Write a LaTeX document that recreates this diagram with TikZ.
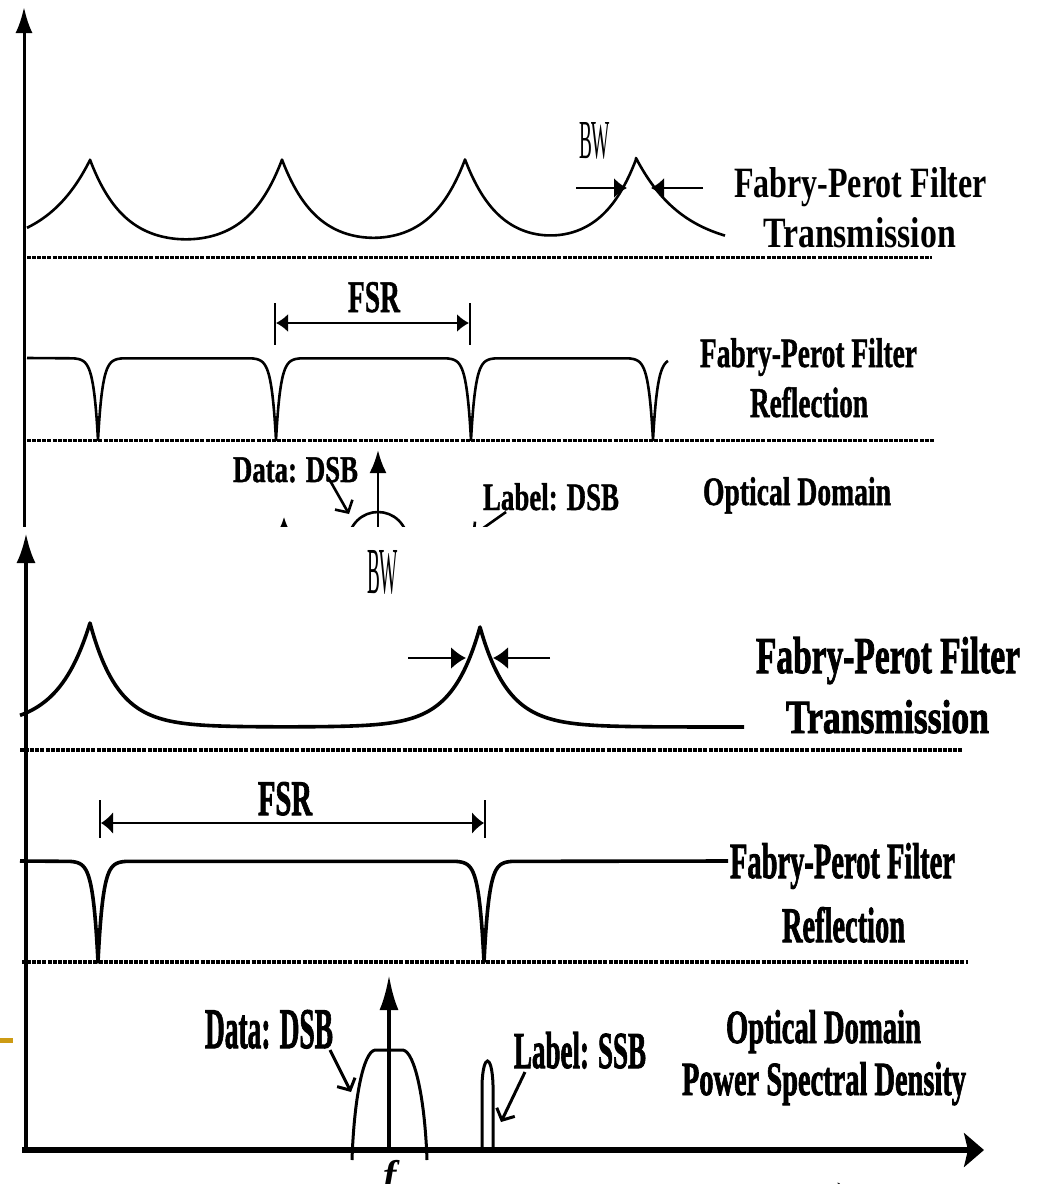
\documentclass[tikz,border=0pt]{standalone}
\usepackage{graphicx}
\usepackage{fontspec}
\setmainfont{Liberation Serif}
\newfontfamily\heavyA{Liberation Serif Bold}[FakeBold=1.2]
\newfontfamily\heavyB{Liberation Serif Bold}[FakeBold=2]
\usetikzlibrary{arrows.meta}
\newcommand{\fitbox}[3]{\resizebox{#1pt}{#2pt}{#3}}
\definecolor{bulletgold}{RGB}{205,155,20}
\begin{document}
\begin{tikzpicture}[x=1pt,y=-1pt,
  lab/.style={inner sep=0pt,outer sep=0pt,anchor=base west,font=\bfseries},
  labA/.style={inner sep=0pt,outer sep=0pt,anchor=base west,font=\heavyA},
  labB/.style={inner sep=0pt,outer sep=0pt,anchor=base west,font=\heavyB},
  bwlab/.style={inner sep=0pt,outer sep=0pt,anchor=base west,font=\rmfamily},
  tcurve/.style={line width=2.6pt,line join=round},
  bcurve/.style={line width=3.6pt,line join=round},
  taxis/.style={line width=3pt},
  baxis/.style={line width=4pt},
  tdots/.style={line width=3pt,dash pattern=on 4pt off 1.1pt},
  bdots/.style={line width=3.5pt,dash pattern=on 4pt off 1.1pt},
  barb/.style={line width=2.6pt,-{Straight Barb[length=9pt,width=20pt]}},
  fsrarrow/.style={line width=1.8pt,{Latex[length=12pt,width=18pt]}-{Latex[length=12pt,width=18pt]}},
  tick/.style={line width=1.4pt},
]
\useasboundingbox (0,0) rectangle (1037,1184);
\fill[white] (0,0) rectangle (1037,1184);
\clip (0,0) rectangle (1037,1184);

% ================= TOP (older) figure, cut off at y=526 =================
\begin{scope}
\clip (0,0) rectangle (1037,526);
% y axis
\draw[taxis,-{Latex[length=26pt,width=17pt]}] (24,600) -- (24,7);
% transmission
\draw[tcurve]
  plot[domain=27:90,samples=64] (\x,{250-90*exp(-(90-\x)/45)})
  -- plot[domain=90:282,samples=193] (\x,{250-90*exp(-(\x-90)/34)-90*exp(-(282-\x)/34)})
  -- plot[domain=282:465,samples=184] (\x,{250-90*exp(-(\x-282)/34)-90*exp(-(465-\x)/34)})
  -- plot[domain=465:636,samples=172] (\x,{250-90*exp(-(\x-465)/34)-90*exp(-(636-\x)/34)})
  -- plot[domain=636:725,samples=90] (\x,{250-92*exp(-(\x-636)/48)});
\node[bwlab] (bwt) at (579,158) {\fitbox{31}{36}{BW}};
\draw[line width=2pt,-{Latex[length=13pt,width=20pt]}] (576,188) -- (627,188);
\draw[line width=2pt,-{Latex[length=13pt,width=20pt]}] (703,188) -- (651,188);
\node[lab] (tft) at (734,197) {\fitbox{253}{30}{Fabry-Perot Filter}};
\node[lab] (ttr) at (763,247) {\fitbox{193}{30}{Transmission}};
\draw[tdots] (27,257) -- (932,257);
% reflection
\node[labA] (tfsr) at (348,312) {\fitbox{52}{30}{FSR}};
\draw[tick] (275,303) -- (275,345);
\draw[tick] (470,303) -- (470,345);
\draw[fsrarrow] (276,323) -- (469,323);
\draw[tcurve] (27,358)
  -- plot[domain=73:123,samples=101] (\x,{358+82*exp(-abs(\x-98)/4.5)})
  -- plot[domain=251:301,samples=101] (\x,{358+82*exp(-abs(\x-276)/4.5)})
  -- plot[domain=446:496,samples=101] (\x,{358+82*exp(-abs(\x-471)/4.5)})
  -- plot[domain=628:668,samples=81] (\x,{358+82*exp(-abs(\x-653)/4.5)});
\node[labA] (tfr) at (700,367) {\fitbox{217}{29}{Fabry-Perot Filter}};
\node[labA] (trf) at (750,417) {\fitbox{118}{30}{Reflection}};
\draw[tdots] (27,440) -- (934,440);
% optical domain (partly visible)
\node[labA] (tdata) at (233,482) {\fitbox{125}{25}{Data: DSB}};
\draw[barb] (328,477) -- (349,514);
\draw[line width=2.6pt,-{Latex[length=23pt,width=17pt]}] (378,600) -- (378,450);
\draw[tcurve] (347,545) .. controls (350,501) and (406,501) .. (409,545);
\draw[line width=2pt,-{Latex[length=14pt,width=12pt]}] (284,600) -- (284,517);
\node[labA] (tlabel) at (483,510) {\fitbox{136}{27}{Label: DSB}};
\draw[barb] (506,512) -- (472,536);
\node[labA] (topt) at (703,505) {\fitbox{188}{28}{Optical Domain}};
\end{scope}

% ================= BOTTOM figure =================
% axes
\draw[baxis,-{Latex[length=30pt,width=19pt]}] (26,1150) -- (26,533);
\draw[line width=6pt,-{Stealth[length=20pt,width=34pt,inset=4pt]}] (22,1150) -- (984,1150);
% transmission
\node[bwlab] (bwb) at (367,593) {\fitbox{31}{43}{BW}};
\draw[bcurve]
  plot[domain=20:90,samples=71] (\x,{727-104*exp(-(90-\x)/32)})
  -- plot[domain=90:480,samples=391] (\x,{727-104*exp(-(\x-90)/28)-100*exp(-(480-\x)/28)})
  -- plot[domain=480:744,samples=265] (\x,{727-100*exp(-(\x-480)/28)});
\draw[line width=2.2pt,-{Latex[length=15pt,width=22pt]}] (408,658) -- (466,658);
\draw[line width=2.2pt,-{Latex[length=15pt,width=22pt]}] (550,658) -- (493,658);
\node[labB] (bft) at (756,673) {\fitbox{264}{36}{Fabry-Perot Filter}};
\node[labB] (btr) at (786,733) {\fitbox{203}{33}{Transmission}};
\draw[bdots] (20,750) -- (963,750);
% reflection
\node[labB] (bfsr) at (258,815) {\fitbox{54}{33}{FSR}};
\draw[tick,line width=1.8pt] (100,800) -- (100,838);
\draw[tick,line width=1.8pt] (485,800) -- (485,838);
\draw[fsrarrow,line width=2pt,{Latex[length=12pt,width=22pt]}-{Latex[length=12pt,width=22pt]}] (101,823) -- (484,823);
\draw[bcurve] (20,861)
  -- plot[domain=70:126,samples=113] (\x,{861+101*exp(-abs(\x-98)/5)})
  -- plot[domain=456:512,samples=113] (\x,{861+101*exp(-abs(\x-484)/5)})
  -- (728,861);
\node[labB] (bfr) at (730,878) {\fitbox{225}{35}{Fabry-Perot Filter}};
\node[labB] (brf) at (782,942) {\fitbox{123}{35}{Reflection}};
\draw[bdots] (22,962) -- (968,962);
% optical domain PSD
\draw[line width=4pt,-{Latex[length=35pt,width=19pt]}] (389,1150) -- (389,975);
\draw[line width=3pt] (352,1160) .. controls (354,1100) and (363,1052) .. (375,1050) -- (403,1050) .. controls (415,1052) and (425,1100) .. (427,1160);
\draw[line width=3pt] (482,1150) -- (482,1085) .. controls (483,1053) and (492,1053) .. (493,1085) -- (493,1150);
\node[labB] (bdata) at (205,1048) {\fitbox{128}{38}{Data: DSB}};
\draw[barb,line width=3pt] (330,1050) -- (351,1092);
\node[labB] (blabel) at (514,1068) {\fitbox{132}{36}{Label: SSB}};
\draw[barb,line width=3pt] (525,1072) -- (501,1122);
\node[labB] (bopt) at (726,1043) {\fitbox{195}{33}{Optical Domain}};
\node[labB] (bpsd) at (682,1095) {\fitbox{284}{33}{Power Spectral Density}};
\node[inner sep=0pt,anchor=base,font=\bfseries\itshape\fontsize{40}{40}\selectfont] (fc) at (390,1188) {f};
\node[inner sep=0pt,anchor=base,font=\fontsize{40}{40}\selectfont] (lam) at (840,1200) {$\lambda$};
% slide bullet remnant
\fill[bulletgold] (0,1038) rectangle (13,1043);
\end{tikzpicture}
\end{document}
